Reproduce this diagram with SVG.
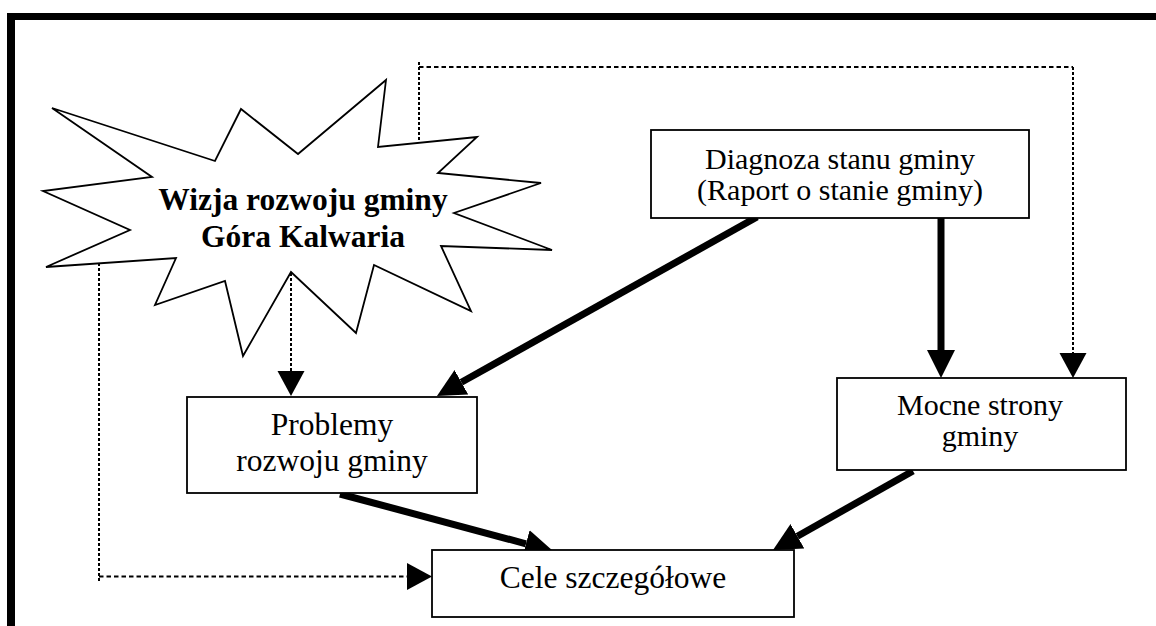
<svg xmlns="http://www.w3.org/2000/svg" width="1156" height="626" viewBox="0 0 1156 626">
<style>
.box{fill:#fff;stroke:#000;stroke-width:1.8}
.star{fill:#fff;stroke:#000;stroke-width:1.8;stroke-linejoin:miter}
.t{font-family:"Liberation Serif","Times New Roman",serif;font-size:30px;fill:#000;text-anchor:middle}
.tl{font-size:31.5px}
.tb{font-family:"Liberation Serif","Times New Roman",serif;font-size:31.5px;font-weight:bold;fill:#000;text-anchor:middle}
.thick{stroke:#000;stroke-width:7;fill:none}
.dh{stroke:#000;stroke-width:2;stroke-dasharray:4.5 3;fill:none}
.dv{stroke:#000;stroke-width:2;stroke-dasharray:3 2;fill:none}
</style>
<defs>
<marker id="ah" markerUnits="userSpaceOnUse" viewBox="0 -15 30 30" markerWidth="30" markerHeight="30" refX="0" refY="0" orient="auto">
<path d="M0,-14 L28,0 L0,14 z" fill="#000"/>
</marker>
<marker id="ad" markerUnits="userSpaceOnUse" viewBox="0 -15 30 30" markerWidth="30" markerHeight="30" refX="0" refY="0" orient="auto">
<path d="M0,-13.5 L25,0 L0,13.5 z" fill="#000"/>
</marker>
</defs>
<rect width="1156" height="626" fill="#fff"/>
<g id="frame">
<rect x="7" y="13" width="1149" height="7" fill="#000"/>
<rect x="7" y="13" width="8" height="613" fill="#000"/>
</g>
<g id="connectors">
<line class="thick" x1="757" y1="217" x2="461.4" y2="382.3" marker-end="url(#ah)"/>
<line class="thick" x1="941" y1="218" x2="941" y2="350" marker-end="url(#ah)"/>
<line class="thick" x1="340" y1="494" x2="526" y2="543.8" marker-end="url(#ah)"/>
<line class="thick" x1="913" y1="471" x2="797.4" y2="536.2" marker-end="url(#ah)"/>
<line class="dv" x1="291" y1="273" x2="291" y2="371" marker-end="url(#ad)"/>
<line class="dv" x1="99" y1="263" x2="99" y2="581"/>
<line class="dh" x1="99" y1="576.5" x2="407" y2="576.5" marker-end="url(#ad)"/>
<line class="dv" x1="419" y1="140" x2="419" y2="61"/>
<line class="dh" x1="419" y1="67" x2="1073" y2="67"/>
<line class="dv" x1="1073" y1="67" x2="1073" y2="353" marker-end="url(#ad)"/>
</g>
<g id="wizja">
<polygon class="star" points="52,108 215,161 241,109 298,154 386,80 378,147 477,137 438,173 541,183 454,213 552,250 441,246 471,311 374,265 356,333 291,272 243,356 225,281 155,305 176,258 46,267 130,230 43,191 152,177"/>
<text class="tb" x="303" y="210">Wizja rozwoju gminy</text>
<text class="tb" x="303" y="247">Góra Kalwaria</text>
</g>
<g id="diagnoza">
<rect class="box" x="651" y="130" width="378" height="88"/>
<text class="t" x="840" y="169">Diagnoza stanu gminy</text>
<text class="t" x="840" y="200">(Raport o stanie gminy)</text>
</g>
<g id="problemy">
<rect class="box" x="187" y="397" width="290" height="96"/>
<text class="t tl" x="332" y="435">Problemy</text>
<text class="t tl" x="332" y="471">rozwoju gminy</text>
</g>
<g id="mocne">
<rect class="box" x="837" y="378" width="289" height="92"/>
<text class="t" x="980" y="415">Mocne strony</text>
<text class="t" x="980" y="446">gminy</text>
</g>
<g id="cele">
<rect class="box" x="432" y="550" width="362" height="67"/>
<text class="t tl" x="613" y="588">Cele szczegółowe</text>
</g>
</svg>
